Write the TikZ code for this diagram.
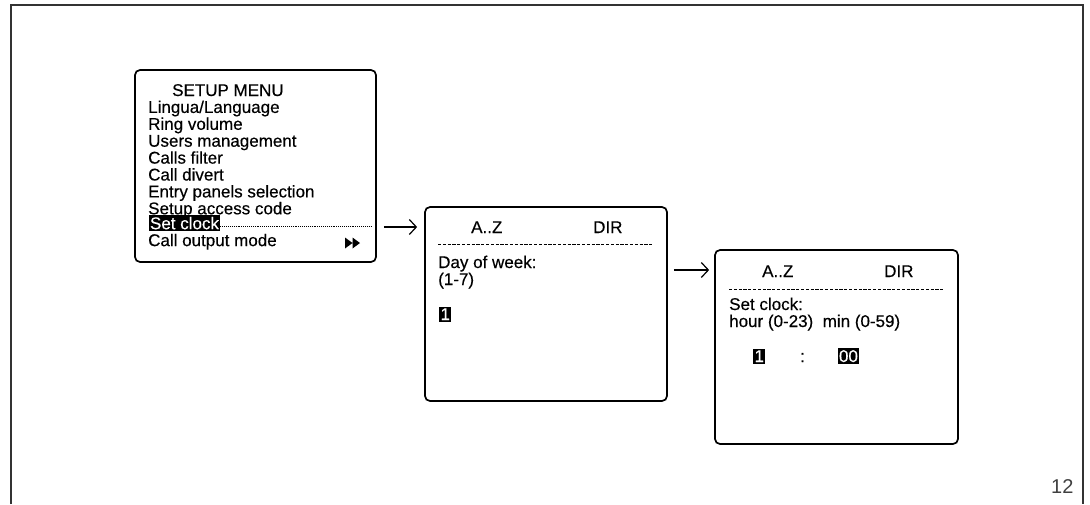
\documentclass[tikz,border=0pt]{standalone}
\usepackage{fontspec}
\setmainfont{Liberation Sans}
\newfontfamily\lcdfont{Liberation Sans}[FakeBold=0.35]
\usetikzlibrary{arrows.meta}
\begin{document}
\begin{tikzpicture}[x=1pt,y=-1pt,
  screen/.style={draw, line width=1.7pt, rounded corners=5pt, inner sep=0pt},
  txt/.style={anchor=base west, inner sep=0pt, font=\lcdfont\fontsize{17}{17}\selectfont},
  hilite/.style={txt, fill=black, text=white, inner xsep=1.3pt, inner ysep=1.8pt},
  rule/.style={line width=1pt, dash pattern=on 3.2pt off 1.6pt},
  flow/.style={line width=1.2pt, -{Straight Barb[length=7pt,width=15pt,line width=1.2pt]}}]
\useasboundingbox (0,0) rectangle (1090,504);

% page frame
\draw[line width=1.5pt, black!80] (11,504) -- (11,5) -- (1083,5) -- (1083,504);

% --- setup menu screen
\node[screen, minimum width=241pt, minimum height=192pt] (menu) at (255.5,166) {};
\node[txt] (mtitle) at (172,96) {SETUP MENU};
\foreach \t [count=\i] in {Lingua/Language, Ring volume, Users management,
    Calls filter, Call divert, Entry panels selection, Setup access code}
  \node[txt] (m\i) at (148,{96+16.9*\i}) {\t};
\node[hilite] (mset) at (148.5,229.2) {Set clock};
\node[txt] (mcall) at (148,246.1) {Call output mode};
\draw[line width=0.8pt, dash pattern=on 0.8pt off 1.1pt] (mset.east |- 0,226) -- (371,226);
\fill (345,237.5) -- (352.5,243) -- (345,248.5) -- cycle
      (352.5,237.5) -- (360,243) -- (352.5,248.5) -- cycle;

% --- day of week screen
\node[screen, minimum width=242pt, minimum height=194pt] (day) at (546,304) {};
\node[txt] (daz) at (471,233) {A..Z};
\node[txt] (ddir) at (593,233) {DIR};
\draw[rule] (438,244) -- (653,244);
\node[txt] (dl1) at (438,268) {Day of week:};
\node[txt] (dl2) at (438,285) {(1-7)};
\node[hilite] (dval) at (439,320) {1};

% --- clock screen
\node[screen, minimum width=243pt, minimum height=194pt] (clk) at (836.5,347) {};
\node[txt] (caz) at (762,277) {A..Z};
\node[txt] (cdir) at (884,277) {DIR};
\draw[rule] (729,289) -- (944,289);
\node[txt] (cl1) at (729,310) {Set clock:};
\node[txt] (cl2) at (729,327) {hour (0-23)\ \ min (0-59)};
\node[hilite] (chour) at (753,362) {1};
\node[txt] (ccol) at (800,362) {:};
\node[hilite] (cmin) at (837.5,362) {00};

% --- transitions
\draw[flow] ([xshift=7pt]menu.east |- 0,227) -- ([xshift=-7pt]day.west |- 0,227);
\draw[flow] ([xshift=6pt]day.east |- 0,270) -- ([xshift=-5pt]clk.west |- 0,270);

% page number
\node[anchor=base west, inner sep=0pt, text=black!75, font=\fontsize{20}{22}\selectfont] (pg) at (1051,493) {12};
\end{tikzpicture}
\end{document}
